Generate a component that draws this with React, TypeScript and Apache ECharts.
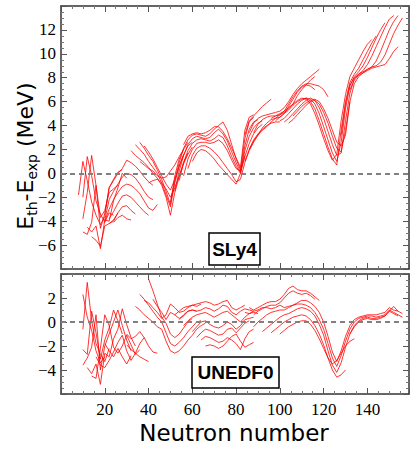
import React, { useEffect, useRef } from 'react';
import * as echarts from 'echarts';

// ---------------- data ----------------
const xLabelValues = [20, 40, 60, 80, 100, 120, 140];
const topYLabels = [-6, -4, -2, 0, 2, 4, 6, 8, 10, 12];
const bottomYLabels = [-4, -2, 0, 2];
const panelNames = ['SLy4', 'UNEDF0'];
const xTitle = 'Neutron number';
const yTitleParts = [
  { t: 'E', sub: false },
  { t: 'th', sub: true },
  { t: '-E', sub: false },
  { t: 'exp', sub: true },
  { t: ' (MeV)', sub: false },
];

// SLy4 chains [N, Eth-Eexp]
const sA1 = [[8, -1.8], [10, 1.0], [12, -0.6], [14, -2.4], [16, -3.5], [18, -4.3], [20, -3.6]];
const sA2 = [[10, -2.0], [12, 1.4], [14, -0.2], [16, -2.3], [18, -3.4], [20, -4.1], [22, -3.3], [24, -3.5]];
const sA3 = [[10, -3.8], [12, -1.6], [14, 1.5], [16, -1.0], [18, -3.7], [20, -3.1], [22, -1.6], [24, -1.3], [26, -1.0]];
const sA4 = [[10, -4.9], [12, -5.1], [14, -4.1], [16, -1.0], [18, -4.6], [20, -3.4], [22, -1.2], [24, -0.5], [26, 0.1], [28, 0.3]];
const sA5 = [[12, -4.5], [14, -4.9], [16, -4.4], [18, -6.3], [20, -3.9], [22, -4.0], [24, -2.3], [26, -1.2], [28, 0.0], [30, -0.4]];
const sA6 = [[14, -5.3], [16, -5.6], [18, -6.1], [20, -4.4], [22, -4.2], [24, -4.0], [26, -3.3]];
const sB1 = [[20, -3.5], [22, -1.2], [24, -0.6], [26, 0.0], [28, 0.4], [30, 1.1], [32, 0.9], [34, 0.6], [36, 0.2], [38, -0.3], [40, -0.7], [42, -1.0]];
const sB2 = [[20, -3.9], [22, -2.2], [24, -1.5], [26, -0.9], [28, -0.3], [30, 0.0], [32, -0.1], [34, -0.4], [36, -0.9], [38, -1.5], [40, -2.0], [42, -2.2]];
const sB3 = [[20, -4.0], [22, -3.0], [24, -2.2], [26, -1.6], [28, -1.1], [30, -0.9], [32, -1.0], [34, -1.3], [36, -1.7], [38, -2.3], [40, -2.9], [42, -3.1], [44, -2.6]];
const sB4 = [[22, -3.8], [24, -3.2], [26, -2.5], [28, -1.9], [30, -1.8], [32, -2.0], [34, -2.4], [36, -2.8], [38, -3.2], [40, -3.5]];
const sB5 = [[22, -4.2], [24, -3.9], [26, -3.3], [28, -2.8], [30, -2.7], [32, -3.1], [34, -3.4]];
const sB6 = [[24, -4.1], [26, -3.7], [28, -3.5], [30, -3.8], [32, -3.9]];
const sK1 = [[34, 2.4], [36, 2.0], [38, 1.6], [40, 1.0], [42, 0.5], [44, 0.0], [46, -0.8], [48, -1.8], [50, -2.8], [52, -0.8], [54, 0.6], [56, 1.5], [58, 2.3], [60, 2.6]];
const sK2 = [[36, 2.6], [38, 2.1], [40, 1.5], [42, 1.0], [44, 0.3], [46, -0.5], [48, -1.5], [50, -2.6], [52, -0.2], [54, 1.2], [56, 2.0], [58, 2.6]];
const sK3 = [[32, 1.9], [34, 1.5], [36, 1.2], [38, 0.9], [40, 0.5], [42, 0.0], [44, -0.4], [46, -1.0], [48, -2.0], [50, -3.5], [52, -1.6], [54, -0.3], [56, 0.8], [58, 1.6], [60, 2.2]];
const sK4 = [[36, 1.0], [38, 0.7], [40, 0.4], [42, 0.2], [44, -0.2], [46, -0.4], [48, -0.3], [50, 0.2], [52, 0.7], [54, 1.4], [56, 2.0]];
const sK5 = [[38, 2.3], [40, 1.8], [42, 1.2], [44, 0.5], [46, -0.2], [48, -0.9], [50, -1.4], [52, -0.5], [54, 0.6], [56, 1.6]];
const sK6 = [[40, -0.8], [42, -0.6], [44, -0.5], [46, -0.8], [48, -1.3], [50, -2.0], [52, -1.2], [54, -0.2], [56, 0.9], [58, 1.7]];
const sH1 = [[50, -2.4], [52, -0.6], [54, 0.9], [56, 2.1], [58, 2.8], [60, 3.2], [62, 3.3], [64, 3.2], [66, 3.1], [68, 3.3], [70, 3.7], [72, 4.0], [74, 4.3], [76, 3.6], [78, 2.4], [80, 1.2], [82, 0.3], [84, 2.9], [86, 4.3], [88, 4.7]];
const sH2 = [[52, -1.5], [54, 0.2], [56, 1.5], [58, 2.4], [60, 2.9], [62, 3.1], [64, 3.0], [66, 2.9], [68, 3.0], [70, 3.4], [72, 3.7], [74, 3.3], [76, 2.7], [78, 1.8], [80, 0.9], [82, 0.1], [84, 2.3], [86, 3.7], [88, 4.3], [90, 4.5]];
const sH3 = [[54, -0.6], [56, 0.9], [58, 1.9], [60, 2.5], [62, 2.8], [64, 2.9], [66, 2.8], [68, 2.7], [70, 2.9], [72, 3.2], [74, 3.0], [76, 2.3], [78, 1.4], [80, 0.6], [82, 0.0], [84, 1.9], [86, 3.1], [88, 3.8], [90, 4.2], [92, 4.4]];
const sH4 = [[56, -0.2], [58, 1.2], [60, 2.0], [62, 2.5], [64, 2.6], [66, 2.6], [68, 2.5], [70, 2.6], [72, 2.8], [74, 2.5], [76, 1.9], [78, 1.1], [80, 0.4], [82, 0.2], [84, 1.4], [86, 2.5], [88, 3.3], [90, 3.8], [92, 4.1]];
const sH5 = [[58, 0.4], [60, 1.5], [62, 2.1], [64, 2.3], [66, 2.3], [68, 2.1], [70, 1.8], [72, 1.4], [74, 0.9], [76, 0.4], [78, -0.1], [80, -0.7], [82, -0.5], [84, 0.9], [86, 1.9], [88, 2.6], [90, 3.2]];
const sH6 = [[60, 1.0], [62, 1.7], [64, 2.0], [66, 1.9], [68, 1.6], [70, 1.2], [72, 0.7], [74, 0.3], [76, -0.1], [78, -0.5], [80, -0.9], [82, 0.0], [84, 1.5]];
const sH7 = [[56, 2.4], [58, 3.1], [60, 3.3], [62, 3.4], [64, 3.3], [66, 3.4], [68, 3.6], [70, 3.9], [72, 3.9], [74, 3.5], [76, 2.9], [78, 2.1], [80, 1.3], [82, 0.5], [84, 3.6], [86, 4.7], [88, 4.9]];
const sG1 = [[84, 3.2], [86, 4.4], [88, 4.8], [90, 5.2], [92, 5.6], [94, 5.9], [96, 6.2]];
const sG2 = [[86, 3.4], [88, 4.2], [90, 4.6], [92, 4.8], [94, 4.9], [96, 5.0], [98, 5.1], [100, 5.2], [102, 5.5], [104, 6.0], [106, 6.6], [108, 7.1], [110, 7.5], [112, 7.8], [114, 8.1], [116, 8.4], [118, 8.7]];
const sG3 = [[88, 3.4], [90, 4.1], [92, 4.5], [94, 4.7], [96, 4.8], [98, 4.8], [100, 4.9], [102, 5.2], [104, 5.8], [106, 6.4], [108, 6.9], [110, 7.3], [112, 7.5], [114, 7.5], [116, 7.4], [118, 7.3], [120, 7.0], [122, 6.4]];
const sG4 = [[90, 3.2], [92, 3.8], [94, 4.2], [96, 4.5], [98, 4.6], [100, 4.7], [102, 5.0], [104, 5.6], [106, 6.2], [108, 6.8], [110, 7.2], [112, 7.4], [114, 7.3], [116, 7.0]];
const sG5 = [[86, 2.0], [88, 2.8], [90, 3.3], [92, 3.7], [94, 4.0], [96, 4.2], [98, 4.3], [100, 4.3]];
const sG6 = [[84, 1.0], [86, 2.0], [88, 2.7], [90, 3.2], [92, 3.6], [94, 3.9], [96, 4.3], [98, 4.6], [100, 4.9], [102, 5.1], [104, 5.4], [106, 5.8], [108, 6.5], [110, 7.0], [112, 7.4], [114, 7.8], [116, 8.1]];
const sV1 = [[96, 4.6], [98, 4.8], [100, 5.0], [102, 5.2], [104, 5.5], [106, 5.8], [108, 6.1], [110, 6.3], [112, 6.2], [114, 5.8], [116, 5.0], [118, 4.0], [120, 2.9], [122, 1.9], [124, 1.1], [126, 1.6], [128, 4.4], [130, 6.6], [132, 8.1], [134, 8.8], [136, 9.5], [138, 10.2], [140, 10.8], [142, 11.2]];
const sV2 = [[98, 4.4], [100, 4.7], [102, 5.0], [104, 5.3], [106, 5.7], [108, 6.0], [110, 6.2], [112, 6.3], [114, 6.0], [116, 5.4], [118, 4.4], [120, 3.3], [122, 2.2], [124, 1.2], [126, 0.7], [128, 3.6], [130, 6.0], [132, 7.6], [134, 8.3], [136, 8.8], [138, 9.5], [140, 10.2], [142, 10.9], [144, 11.5]];
const sV3 = [[100, 4.4], [102, 4.6], [104, 5.0], [106, 5.4], [108, 5.8], [110, 6.1], [112, 6.3], [114, 6.2], [116, 5.8], [118, 5.0], [120, 3.9], [122, 2.8], [124, 1.7], [126, 1.0], [128, 2.6], [130, 5.4], [132, 7.3], [134, 8.1], [136, 8.5], [138, 9.0], [140, 9.7], [142, 10.5], [144, 11.3], [146, 12.0], [148, 12.6]];
const sV4 = [[102, 4.3], [104, 4.6], [106, 5.0], [108, 5.4], [110, 5.8], [112, 6.1], [114, 6.3], [116, 6.1], [118, 5.5], [120, 4.6], [122, 3.5], [124, 2.4], [126, 1.5], [128, 1.7], [130, 4.4], [132, 6.7], [134, 7.9], [136, 8.3], [138, 8.6], [140, 9.1], [142, 9.8], [144, 10.6], [146, 11.4], [148, 12.2], [150, 12.9], [152, 13.2]];
const sV5 = [[104, 4.2], [106, 4.5], [108, 4.9], [110, 5.3], [112, 5.7], [114, 6.0], [116, 6.1], [118, 5.8], [120, 5.1], [122, 4.2], [124, 3.1], [126, 2.1], [128, 1.8], [130, 3.6], [132, 6.0], [134, 7.5], [136, 8.1], [138, 8.4], [140, 8.7], [142, 8.9], [144, 9.4], [146, 10.2], [148, 11.1], [150, 12.0], [152, 12.7], [154, 13.2]];
const sV6 = [[106, 4.8], [108, 5.2], [110, 5.6], [112, 5.9], [114, 6.1], [116, 6.2], [118, 6.0], [120, 5.4], [122, 4.6], [124, 3.6], [126, 2.6], [128, 2.3], [130, 3.2], [132, 6.0]];
const sV7 = [[128, 3.2], [130, 5.8], [132, 7.4], [134, 8.0], [136, 8.3], [138, 8.5], [140, 8.7], [142, 8.9], [144, 9.0], [146, 9.3], [148, 9.9], [150, 10.8], [152, 11.7], [154, 12.4], [156, 13.0]];
const sV8 = [[132, 7.0], [134, 7.8], [136, 8.2], [138, 8.4], [140, 8.6], [142, 8.8], [144, 8.9], [146, 9.0], [148, 9.1], [150, 9.6], [152, 10.2], [154, 10.6]];

// UNEDF0 chains
const uA1 = [[10, 2.3], [12, 0.4], [14, -0.7], [16, -2.4], [18, -3.4], [20, -2.9]];
const uA2 = [[10, -0.6], [12, 3.3], [14, 0.1], [16, -1.8], [18, -2.7], [20, -3.3], [22, -2.2]];
const uA3 = [[10, -2.3], [12, -2.7], [14, 0.9], [16, -0.9], [18, -3.1], [20, -1.5], [22, -0.5], [24, 1.0], [26, 0.1], [28, -1.0]];
const uA4 = [[10, -3.6], [12, -3.0], [14, -2.1], [16, 0.6], [18, -4.0], [20, -2.0], [22, -1.0], [24, 0.0], [26, 1.0], [28, -0.3], [30, -1.5], [32, -2.4]];
const uA5 = [[12, -3.8], [14, -4.3], [16, -3.5], [18, -5.2], [20, -2.6], [22, -2.9], [24, -1.4], [26, -0.6], [28, 1.1], [30, -0.2], [32, -1.3], [34, -2.0]];
const uA6 = [[14, -4.5], [16, -4.7], [18, -2.2], [20, 0.6], [22, -0.3], [24, -2.1], [26, -2.6], [28, -2.0], [30, -1.1], [32, -1.9], [34, -2.7], [36, -2.3]];
const uA7 = [[16, -2.9], [18, -3.6], [20, -3.8], [22, -3.2], [24, -2.5], [26, -1.7], [28, -1.1], [30, -2.4], [32, -3.2], [34, -2.6], [36, -1.8], [38, -1.3]];
const uA8 = [[20, -1.8], [22, -2.4], [24, -2.9], [26, -2.2], [28, -2.9], [30, -3.5], [32, -2.8]];
const uB1 = [[30, -1.0], [32, -1.4], [34, -1.2], [36, -0.8], [38, -1.3], [40, -2.0], [42, -2.5], [44, -2.6]];
const uB2 = [[34, 1.3], [36, 1.0], [38, 0.6], [40, 0.3], [42, 0.0], [44, -0.4], [46, -0.6], [48, -1.6], [50, -2.4], [52, -2.6], [54, -2.4], [56, -2.0], [58, -1.5], [60, -1.1], [62, -0.6], [64, -0.3], [66, -0.1]];
const uB3 = [[36, 2.3], [38, 1.9], [40, 1.4], [42, 0.9], [44, 0.4], [46, 0.0], [48, -0.9], [50, -1.8], [52, -2.0], [54, -1.7], [56, -1.3], [58, -0.8], [60, -0.4], [62, 0.0], [64, 0.1]];
const uB4 = [[40, 3.6], [42, 2.6], [44, 1.5], [46, 0.4], [48, -0.1], [50, -1.0], [52, -1.3], [54, -1.0], [56, -0.5], [58, 0.0], [60, 0.3]];
const uB5 = [[38, 1.8], [40, 1.6], [42, 1.2], [44, 0.8], [46, 0.3], [48, 0.6], [50, 1.5], [52, 1.2], [54, 0.8], [56, 0.9], [58, 1.2], [60, 1.4], [62, 1.3], [64, 1.5]];
const uB6 = [[42, 1.9], [44, 1.3], [46, 0.8], [48, 0.2], [50, 0.8], [52, 0.6], [54, 0.3], [56, 0.5], [58, 0.9], [60, 1.0], [62, 0.9]];
const uB7 = [[30, -1.9], [32, -2.3], [34, -2.6], [36, -2.9], [38, -3.1], [40, -3.3]];
const uC1 = [[52, 0.6], [54, 0.9], [56, 1.2], [58, 1.3], [60, 1.4], [62, 1.5], [64, 1.6], [66, 1.7], [68, 1.6], [70, 1.4], [72, 1.5], [74, 1.7], [76, 1.8], [78, 1.2], [80, 1.0], [82, 1.2], [84, 1.4]];
const uC2 = [[54, 0.2], [56, 0.6], [58, 0.9], [60, 1.0], [62, 0.9], [64, 1.0], [66, 1.2], [68, 1.1], [70, 0.9], [72, 1.1], [74, 1.4], [76, 1.3], [78, 0.8], [80, 0.6], [82, 0.9], [84, 1.1], [86, 1.0], [88, 0.9]];
const uC3 = [[56, -0.3], [58, 0.1], [60, 0.4], [62, 0.6], [64, 0.7], [66, 0.8], [68, 0.6], [70, 0.4], [72, 0.6], [74, 0.8], [76, 0.9], [78, 0.6], [80, 0.3], [82, 0.0], [84, 0.4], [86, 0.7], [88, 0.8], [90, 0.7]];
const uC4 = [[60, -0.8], [62, -0.4], [64, 0.0], [66, 0.1], [68, -0.2], [70, -0.4], [72, -0.5], [74, -0.3], [76, 0.0], [78, -0.2], [80, -0.6], [82, -0.3], [84, 0.2], [86, 0.3], [88, 0.4]];
const uC5 = [[62, -1.3], [64, -0.9], [66, -0.6], [68, -0.7], [70, -0.9], [72, -1.1], [74, -1.0], [76, -0.6], [78, -0.5], [80, -0.9], [82, -0.5], [84, -0.1], [86, 0.1]];
const uC6 = [[64, -1.5], [66, -1.2], [68, -1.3], [70, -1.5], [72, -1.7], [74, -1.6], [76, -1.3], [78, -1.5], [80, -1.8], [82, -2.3], [84, -1.4], [86, -0.8], [88, -0.6]];
const uC7 = [[66, -2.0], [68, -1.9], [70, -2.0], [72, -2.2], [74, -2.0], [76, -1.6], [78, -1.2], [80, -1.0], [82, -1.6], [84, -2.1], [86, -1.9], [88, -1.7]];
const uD1 = [[86, 1.2], [88, 1.0], [90, 1.2], [92, 1.4], [94, 1.6], [96, 1.7], [98, 1.7], [100, 1.9], [102, 2.3], [104, 2.8], [106, 3.0], [108, 2.7], [110, 2.6], [112, 2.6], [114, 2.4], [116, 2.1], [118, 1.8]];
const uD2 = [[88, 0.6], [90, 0.9], [92, 1.1], [94, 1.3], [96, 1.4], [98, 1.4], [100, 1.6], [102, 2.0], [104, 2.4], [106, 2.6], [108, 2.4], [110, 2.3], [112, 2.4], [114, 2.2], [116, 1.9]];
const uD3 = [[84, 0.8], [86, 0.7], [88, 0.9], [90, 1.0], [92, 1.2], [94, 1.2], [96, 1.1], [98, 1.2], [100, 1.4], [102, 1.2], [104, 1.3], [106, 1.4], [108, 1.6], [110, 1.8], [112, 1.8], [114, 1.6], [116, 1.3], [118, 0.8], [120, 0.0], [122, -1.2], [124, -2.5], [126, -3.3], [128, -2.4], [130, -1.2], [132, -0.3], [134, 0.2], [136, 0.4], [138, 0.5], [140, 0.6], [142, 0.6], [144, 0.6], [146, 0.7], [148, 0.8], [150, 1.2], [152, 1.0], [154, 0.9]];
const uD4 = [[88, -0.4], [90, 0.0], [92, 0.3], [94, 0.6], [96, 0.8], [98, 0.9], [100, 1.0], [102, 1.0], [104, 1.2], [106, 1.4], [108, 1.5], [110, 1.5], [112, 1.4], [114, 1.2], [116, 0.8], [118, 0.2], [120, -0.6], [122, -1.8], [124, -3.0], [126, -3.7], [128, -2.8], [130, -1.6], [132, -0.6], [134, 0.0], [136, 0.3], [138, 0.4], [140, 0.5], [142, 0.5], [144, 0.4], [146, 0.5], [148, 0.6], [150, 1.0], [152, 0.8], [154, 0.6], [156, 0.4]];
const uD5 = [[92, -0.8], [94, -0.5], [96, -0.2], [98, 0.1], [100, 0.4], [102, 0.6], [104, 0.7], [106, 0.9], [108, 1.1], [110, 1.2], [112, 1.1], [114, 0.9], [116, 0.5], [118, -0.2], [120, -1.1], [122, -2.4], [124, -3.6], [126, -4.2], [128, -3.4], [130, -2.1], [132, -1.0], [134, -0.3], [136, 0.1], [138, 0.3], [140, 0.4], [142, 0.3], [144, 0.3], [146, 0.4], [148, 0.5], [150, 0.9], [152, 0.7], [154, 0.5]];
const uD6 = [[96, -0.9], [98, -0.6], [100, -0.3], [102, 0.0], [104, 0.2], [106, 0.4], [108, 0.5], [110, 0.6], [112, 0.5], [114, 0.2], [116, -0.3], [118, -1.0], [120, -1.9], [122, -3.0], [124, -4.0], [126, -4.6], [128, -4.4], [130, -4.0]];
const uD7 = [[100, -1.0], [102, -0.7], [104, -0.4], [106, -0.2], [108, 0.0], [110, 0.1], [112, 0.1], [114, -0.2], [116, -0.7], [118, -1.4], [120, -2.2], [122, -3.0], [124, -3.5], [126, -3.2], [128, -2.6], [130, -2.0], [132, -1.6], [134, -1.4]];
const uD8 = [[132, -1.0], [134, -0.4], [136, 0.0], [138, 0.2], [140, 0.3], [142, 0.2], [144, 0.2], [146, 0.3], [148, 0.5], [150, 0.9], [152, 1.3], [154, 0.9], [156, 0.7]];

const sly4Chains = [sA1, sA2, sA3, sA4, sA5, sA6, sB1, sB2, sB3, sB4, sB5, sB6, sK1, sK2, sK3, sK4, sK5, sK6,
  sH1, sH2, sH3, sH4, sH5, sH6, sH7, sG1, sG2, sG3, sG4, sG5, sG6, sV1, sV2, sV3, sV4, sV5, sV6, sV7, sV8];
const unedf0Chains = [uA1, uA2, uA3, uA4, uA5, uA6, uA7, uA8, uB1, uB2, uB3, uB4, uB5, uB6, uB7,
  uC1, uC2, uC3, uC4, uC5, uC6, uC7, uD1, uD2, uD3, uD4, uD5, uD6, uD7, uD8];

// ---------------- chart ----------------
const AXIS_COLOR = '#333';
const RED = '#ff0000';
const LABEL_FONT = '"Liberation Serif", serif';
const TITLE_FONT = '"DejaVu Sans", sans-serif';

const fmtNum = (v: number) => (v < 0 ? '\u2212' + Math.abs(v) : String(v));

function xAxisDef(gridIndex: number, position: 'top' | 'bottom', labels: boolean) {
  return {
    type: 'value', gridIndex, position, min: 0, max: 159, interval: 20,
    axisLine: { show: true, onZero: false, lineStyle: { color: AXIS_COLOR, width: 1.5 } },
    axisTick: { show: true, inside: true, length: 6, lineStyle: { color: '#555', width: 1 } },
    minorTick: { show: true, splitNumber: 4, length: 3, lineStyle: { color: '#777', width: 1 } },
    splitLine: { show: false },
    axisLabel: {
      show: labels, margin: 7, color: '#000', fontFamily: LABEL_FONT, fontSize: 17,
      formatter: (v: number) => (xLabelValues.includes(v) ? String(v) : ''),
    },
  };
}

function yAxisDef(gridIndex: number, position: 'left' | 'right', min: number, max: number, labels: number[] | null) {
  return {
    type: 'value', gridIndex, position, min, max, interval: 2,
    axisLine: { show: true, onZero: false, lineStyle: { color: AXIS_COLOR, width: 1.5 } },
    axisTick: { show: true, inside: true, length: 6, lineStyle: { color: '#555', width: 1 } },
    minorTick: { show: true, splitNumber: 4, length: 3, lineStyle: { color: '#777', width: 1 } },
    splitLine: { show: false },
    axisLabel: {
      show: !!labels, margin: 5, color: '#000', fontFamily: LABEL_FONT, fontSize: 17,
      formatter: (v: number) => (labels && labels.includes(v) ? fmtNum(v) : ''),
    },
  };
}

function chainSeries(chains: number[][][], axisIndex: number) {
  return chains.map((c, i) => ({
    type: 'line', xAxisIndex: axisIndex, yAxisIndex: axisIndex, data: c,
    symbol: 'none', showSymbol: false, silent: true,
    lineStyle: { color: RED, width: 0.8 },
    z: 2,
    markLine: i === 0 ? {
      silent: true, symbol: 'none', label: { show: false }, z: 5,
      lineStyle: { color: '#808080', type: [5, 4], width: 2 },
      data: [{ yAxis: 0 }],
    } : undefined,
  }));
}

function buildYTitle() {
  const ctx = document.createElement('canvas').getContext('2d')!;
  const big = 22, small = 14;
  const widths = yTitleParts.map((p) => {
    ctx.font = `${p.sub ? small : big}px "DejaVu Sans"`;
    return ctx.measureText(p.t).width;
  });
  const total = widths.reduce((a, b) => a + b, 0);
  let x = -total / 2;
  const children = yTitleParts.map((p, i) => {
    const el = {
      type: 'text', x, y: p.sub ? 7 : 0,
      style: {
        text: p.t, fontFamily: TITLE_FONT, fontSize: p.sub ? small : big,
        fill: '#000', align: 'left', verticalAlign: 'middle',
      },
    };
    x += widths[i];
    return el;
  });
  return { type: 'group', x: 25, y: 156, rotation: Math.PI / 2, children };
}

export default function App() {
  const ref = useRef<HTMLDivElement>(null);
  useEffect(() => {
    if (!ref.current) return;
    const chart = echarts.init(ref.current, undefined, { renderer: 'svg' });
    const option = {
      animation: false,
      backgroundColor: '#fff',
      grid: [
        { left: 61, top: 6, width: 348, height: 263 },
        { left: 61, top: 274, width: 348, height: 120 },
      ],
      xAxis: [
        xAxisDef(0, 'bottom', false),
        xAxisDef(0, 'top', false),
        xAxisDef(1, 'bottom', true),
        xAxisDef(1, 'top', false),
      ],
      yAxis: [
        yAxisDef(0, 'left', -8, 14, topYLabels),
        yAxisDef(0, 'right', -8, 14, null),
        yAxisDef(1, 'left', -6, 4, bottomYLabels),
        yAxisDef(1, 'right', -6, 4, null),
      ],
      series: [...chainSeries(sly4Chains, 0), ...chainSeries(unedf0Chains, 2)],
      graphic: [
        buildYTitle(),
        {
          type: 'text', x: 234, y: 433,
          style: { text: xTitle, fontFamily: TITLE_FONT, fontSize: 23, fill: '#000', align: 'center', verticalAlign: 'middle' },
        },
        { type: 'rect', shape: { x: 209, y: 233, width: 51, height: 32 }, style: { fill: '#fff', stroke: '#000', lineWidth: 1.5 }, z: 10 },
        {
          type: 'text', x: 234.5, y: 249, z: 11,
          style: { text: panelNames[0], fontFamily: '"Liberation Sans", sans-serif', fontWeight: 'bold', fontSize: 19, fill: '#000', align: 'center', verticalAlign: 'middle' },
        },
        { type: 'rect', shape: { x: 192, y: 357, width: 87, height: 31 }, style: { fill: '#fff', stroke: '#000', lineWidth: 1.5 }, z: 10 },
        {
          type: 'text', x: 235.5, y: 372.5, z: 11,
          style: { text: panelNames[1], fontFamily: '"Liberation Sans", sans-serif', fontWeight: 'bold', fontSize: 19, fill: '#000', align: 'center', verticalAlign: 'middle' },
        },
      ],
    };
    chart.setOption(option as any);
    return () => chart.dispose();
  }, []);
  return <div ref={ref} style={{ position: 'fixed', left: 0, top: 0, width: 415, height: 450 }} />;
}
